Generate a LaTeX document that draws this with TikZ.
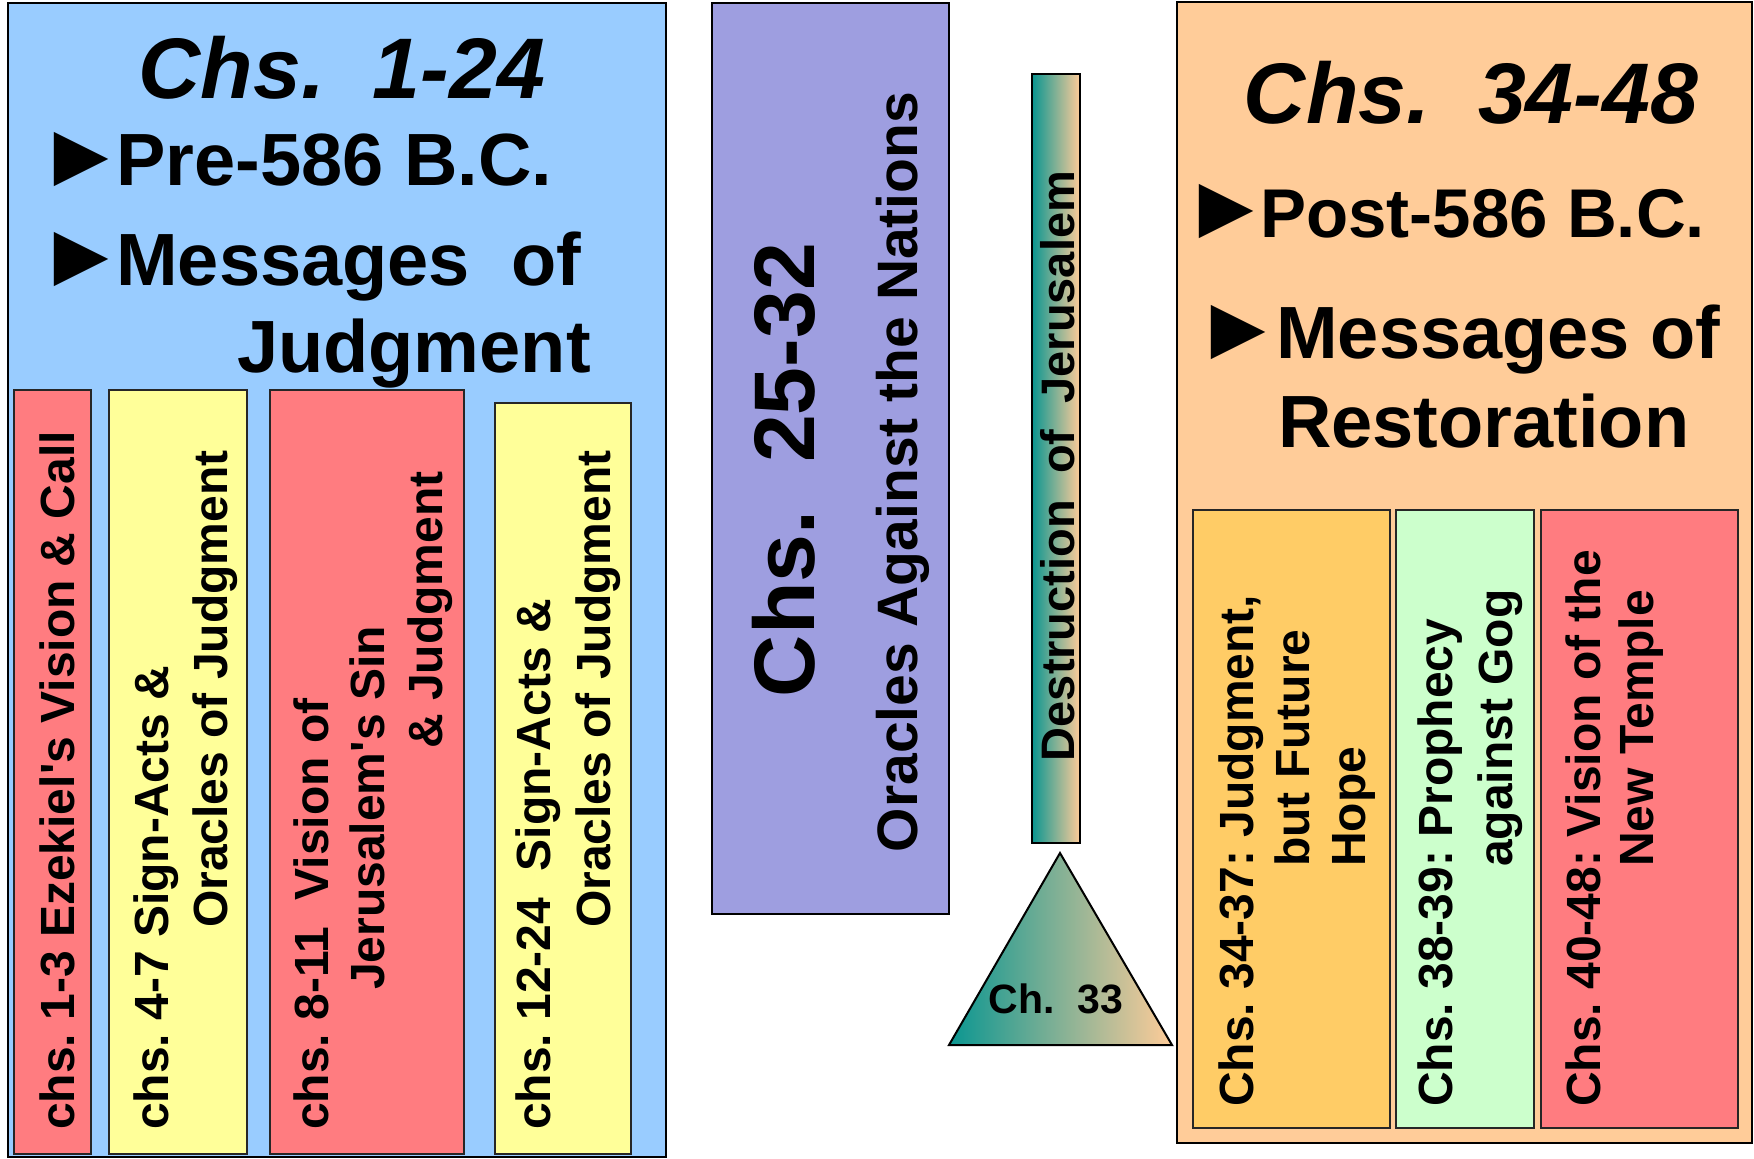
\documentclass[tikz,border=0pt]{standalone}
\usepackage{fontspec}
\setmainfont{Liberation Sans}
\usepackage{tikz}
\definecolor{skyblue}{RGB}{153,204,255}
\definecolor{salmon}{RGB}{255,124,128}
\definecolor{lemon}{RGB}{255,255,153}
\definecolor{lavender}{RGB}{158,158,224}
\definecolor{peach}{RGB}{255,204,153}
\definecolor{marigold}{RGB}{255,204,102}
\definecolor{mint}{RGB}{204,255,204}
\definecolor{tealish}{RGB}{10,150,145}
\newcommand{\sz}[1]{\fontsize{#1}{#1}\selectfont}
\newcommand{\tri}{{\sz{74}\scalebox{1.23}{►}}}
\frenchspacing

\begin{document}
\begin{tikzpicture}[x=1pt,y=-1pt,
  box/.style={draw=black,line width=2.5pt},
  subbox/.style={draw=black!85,line width=2pt},
  grad/.style={draw=black,line width=2pt,left color=tealish,right color=peach},
  txt/.style={inner sep=0pt,font=\bfseries\sz{48}},
  vtxt/.style={txt,rotate=90,anchor=base west},
  head/.style={inner sep=0pt,anchor=base west,font=\bfseries\sz{74}},
  title/.style={inner sep=0pt,anchor=base,font=\bfseries\itshape\sz{86}}]
  \useasboundingbox (0,0) rectangle (1754,1159);
  % chs. 1-24
  \draw[box,fill=skyblue] (8,3) rectangle (666,1157);
  \node[title] (t1) at (342,98) {Chs.\ \ 1-24};
  \node[head] (pre) at (36,185) {\tri\hspace{-10pt}Pre-586 B.C.};
  \node[head] (msg1) at (36,285) {\tri\hspace{-10pt}Messages\ \ of};
  \node[head] (jdg) at (237,372) {Judgment};
  \foreach \xa/\xb/\ya/\c in {14/91/390/salmon,109/247/390/lemon,270/464/390/salmon,495/631/403/lemon}
    \draw[subbox,fill=\c] (\xa,\ya) rectangle (\xb,1154);
  \node[vtxt] (a1) at (74,1130) {chs. 1-3 Ezekiel\textquotesingle s Vision \& Call};
  \node[vtxt] (b1) at (168,1130) {chs. 4-7 Sign-Acts \&};
  \node[vtxt] (b2) at (227,928) {Oracles of Judgment};
  \node[vtxt] (c1) at (328,1130) {chs. 8-11\ \ Vision of};
  \node[vtxt] (c2) at (384,990) {Jerusalem\textquotesingle s Sin};
  \node[vtxt] (c3) at (442,749) {\& Judgment};
  \node[vtxt] (d1) at (550,1130) {chs. 12-24\ \ Sign-Acts \&};
  \node[vtxt] (d2) at (610,928) {Oracles of Judgment};
  % chs. 25-33
  \draw[box,fill=lavender] (712,3) rectangle (949,914);
  \node[txt,rotate=90,anchor=base,font=\bfseries\sz{86}] (t2) at (814,470) {Chs.\ \ 25-32};
  \node[txt,rotate=90,anchor=base,font=\bfseries\sz{57}] (nat) at (917,472) {Oracles Against the Nations};
  \shadedraw[grad] (1032,74) rectangle (1080,843);
  \node[txt,rotate=90,anchor=base,font=\bfseries\sz{47}] (dest) at (1074,466) {Destruction\ \ of\ \ Jerusalem};
  \shadedraw[grad] (1060,853) -- (1172,1045) -- (949,1045) -- cycle;
  \node[txt,anchor=base,font=\bfseries\sz{41}] (c33) at (1056,1013) {Ch.\ \ 33};
  % chs. 34-48
  \draw[box,fill=peach] (1177,2) rectangle (1752,1143);
  \node[title] (t3) at (1471,123) {Chs.\ \ 34-48};
  \node[head,font=\bfseries\sz{69}] (post) at (1181,237) {\tri\hspace{-11pt}Post-586 B.C.};
  \node[head] (msg2) at (1193,358) {\tri\hspace{-7pt}Messages of};
  \node[head] (rest) at (1278,447) {Restoration};
  \foreach \xa/\xb/\c in {1193/1390/marigold,1396/1534/mint,1541/1738/salmon}
    \draw[subbox,fill=\c] (\xa,510) rectangle (\xb,1128);
  \node[vtxt] (e1) at (1253,1107) {Chs. 34-37: Judgment,};
  \node[vtxt] (e2) at (1309,867) {but Future};
  \node[vtxt] (e3) at (1365,867) {Hope};
  \node[vtxt] (f1) at (1452,1107) {Chs. 38-39: Prophecy};
  \node[vtxt] (f2) at (1512,867) {against Gog};
  \node[vtxt] (g1) at (1600,1107) {Chs. 40-48: Vision of the};
  \node[vtxt] (g2) at (1653,867) {New Temple};
\end{tikzpicture}
\end{document}
